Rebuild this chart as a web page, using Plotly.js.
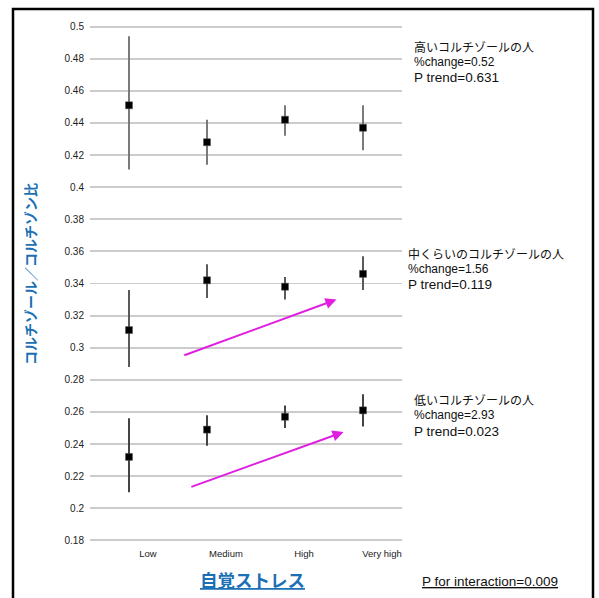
<!DOCTYPE html>
<html>
<head>
<meta charset="utf-8">
<script src="https://cdn.plot.ly/plotly-3.0.1.min.js"></script>
<style>
  html, body { margin: 0; padding: 0; background: #ffffff; }
  #chart { width: 599px; height: 598px; }
</style>
</head>
<body>
<div id="chart"></div>
<script>
// ---- data ----
const categories = ['Low', 'Medium', 'High', 'Very high'];

const highMean = [0.451, 0.428, 0.442, 0.437];
const highLo   = [0.411, 0.414, 0.432, 0.423];
const highHi   = [0.494, 0.442, 0.451, 0.451];

const midMean  = [0.311, 0.342, 0.338, 0.346];
const midLo    = [0.288, 0.331, 0.330, 0.336];
const midHi    = [0.336, 0.352, 0.344, 0.357];

const lowMean  = [0.232, 0.249, 0.257, 0.261];
const lowLo    = [0.210, 0.239, 0.250, 0.251];
const lowHi    = [0.256, 0.258, 0.264, 0.271];

const groupLabels = ['高いコルチゾールの人', '中くらいのコルチゾールの人', '低いコルチゾールの人'];
const pctChange   = ['0.52', '1.56', '2.93'];
const pTrend      = ['0.631', '0.119', '0.023'];
const pInteraction = '0.009';

// trend arrows [x0, y0, x1, y1] (category index / ratio)
const midArrow = [0.69, 0.295, 2.66, 0.330];
const lowArrow = [0.78, 0.213, 2.75, 0.2475];

// ---- layout helpers ----
const W = 599, H = 598;
const M = {l: 90, r: 197, t: 25, b: 56};
const pw = W - M.l - M.r, ph = H - M.t - M.b;
const px = x => (x - M.l) / pw;
const py = y => 1 - (y - M.t) / ph;

const latin = 'Liberation Sans, Arial, sans-serif';
const jp = 'Noto Sans CJK JP, sans-serif';
const blue = '#1a6fb5';

function trace(mean, lo, hi, color, thick) {
  return {
    type: 'scatter', mode: 'markers',
    x: categories, y: mean,
    marker: {symbol: 'square', size: 7, color: '#000', line: {color: '#555', width: 0.5}},
    error_y: {
      type: 'data', symmetric: false,
      array: hi.map((h, i) => h - mean[i]),
      arrayminus: mean.map((m, i) => m - lo[i]),
      color: color, thickness: thick, width: 0
    },
    showlegend: false, hoverinfo: 'skip'
  };
}

const data = [
  trace(highMean, highLo, highHi, '#7a7a7a', 2),
  trace(midMean, midLo, midHi, '#5a5a5a', 2),
  trace(lowMean, lowLo, lowHi, '#444444', 2)
];

function arrow(a) {
  return {
    xref: 'x', yref: 'y', axref: 'x', ayref: 'y',
    x: a[2], y: a[3], ax: a[0], ay: a[1],
    text: '', showarrow: true, arrowhead: 2, arrowsize: 1.1,
    arrowwidth: 2, arrowcolor: '#e01ee0', standoff: 0, startstandoff: 0
  };
}

function txt(text, x, y, size, family, extra) {
  return Object.assign({
    xref: 'paper', yref: 'paper', x: px(x), y: py(y),
    xanchor: 'left', yanchor: 'middle', showarrow: false,
    text: text, font: {family: family, size: size, color: '#111'}
  }, extra || {});
}

const blockX = [412, 406, 412];
const blockY = [[46, 62, 77], [253, 269, 284], [399, 415, 431]];
const annotations = [arrow(midArrow), arrow(lowArrow)];
for (let i = 0; i < 3; i++) {
  annotations.push(txt(groupLabels[i], blockX[i], blockY[i][0], 12, jp));
  annotations.push(txt('%change=' + pctChange[i], blockX[i], blockY[i][1], 12, latin));
  annotations.push(txt('P trend=' + pTrend[i], blockX[i], blockY[i][2], 13.5, latin));
}
annotations.push(txt('<b>コルチゾール／コルチゾン比</b>', 30, 274, 14, jp,
  {xanchor: 'center', textangle: -90, font: {family: jp, size: 14, color: blue}}));
annotations.push(txt('<b><u>自覚ストレス</u></b>', 252, 579, 17.5, jp,
  {xanchor: 'center', font: {family: jp, size: 17.5, color: blue}}));
annotations.push(txt('<u>P for interaction=' + pInteraction + '</u>', 490, 581, 13.5, latin,
  {xanchor: 'center'}));

const layout = {
  width: W, height: H,
  margin: M,
  paper_bgcolor: '#ffffff', plot_bgcolor: '#ffffff',
  xaxis: {
    type: 'category', range: [-0.5, 3.5],
    showgrid: false, zeroline: false, showline: false, ticks: '',
    tickfont: {family: latin, size: 9.5, color: '#222'},
    ticklabelshift: 19, ticklabelstandoff: 4,
    fixedrange: true
  },
  yaxis: {
    range: [0.179, 0.501], tick0: 0.18, dtick: 0.02,
    showgrid: true, gridcolor: '#cccccc', gridwidth: 1.8,
    zeroline: false, showline: false, ticks: '',
    tickfont: {family: latin, size: 10, color: '#222'},
    ticklabelstandoff: 5,
    fixedrange: true
  },
  shapes: [{
    type: 'rect', xref: 'paper', yref: 'paper',
    x0: px(13), x1: px(593), y0: py(9), y1: py(610),
    line: {color: '#000', width: 2.5}, fillcolor: 'rgba(0,0,0,0)'
  }],
  annotations: annotations
};

Plotly.newPlot('chart', data, layout, {staticPlot: true, displayModeBar: false});
</script>
</body>
</html>
